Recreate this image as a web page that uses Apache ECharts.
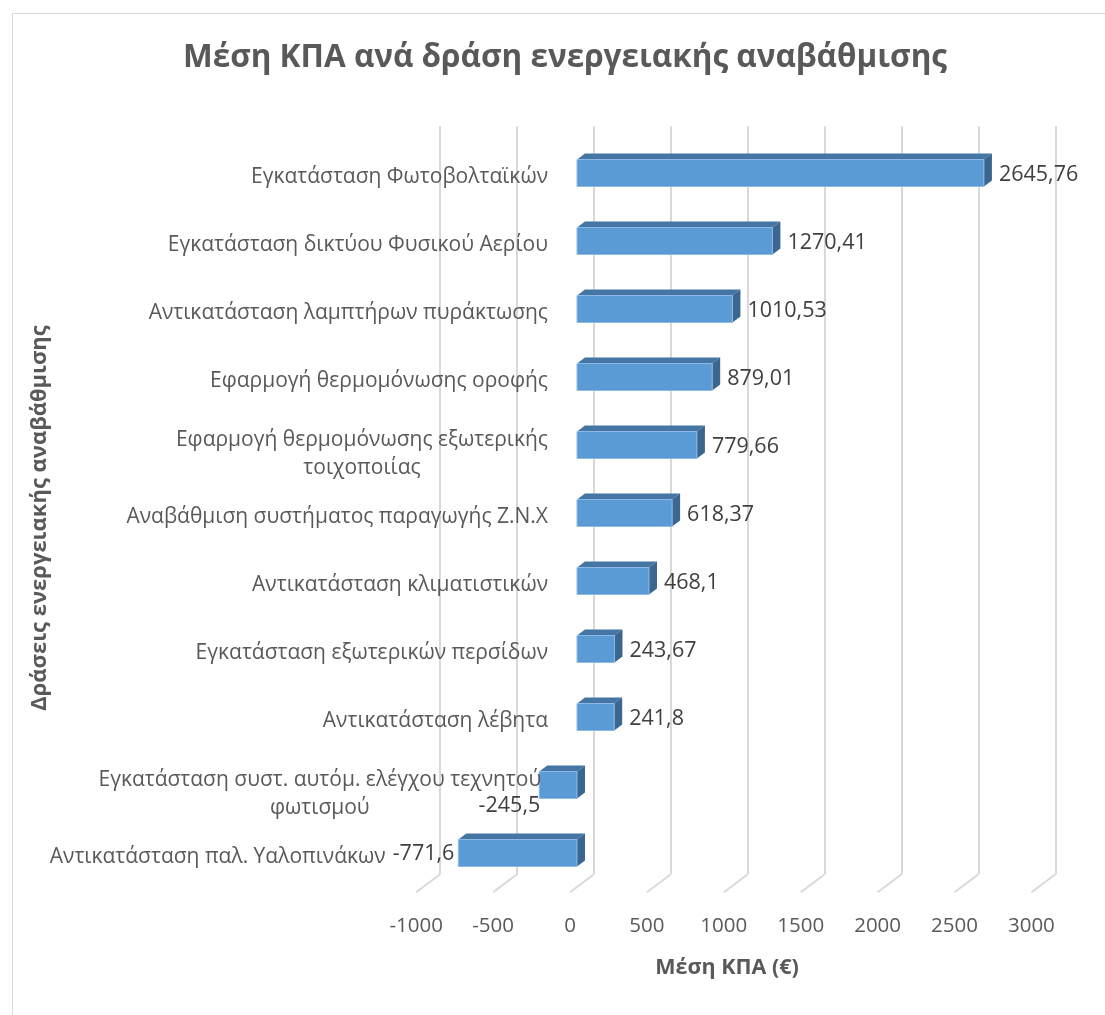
<!DOCTYPE html>
<html>
<head>
<meta charset="utf-8">
<script src="https://cdn.jsdelivr.net/npm/echarts@6/dist/echarts.min.js"></script>
<style>
  html, body { margin: 0; padding: 0; background: #ffffff; }
  #chart { width: 1105px; height: 1015px; }
</style>
</head>
<body>
<div id="chart"></div>
<script>
// Μέση ΚΠΑ ανά δράση ενεργειακής αναβάθμισης
const categories = [
  'Εγκατάσταση Φωτοβολταϊκών',
  'Εγκατάσταση δικτύου Φυσικού Αερίου',
  'Αντικατάσταση λαμπτήρων πυράκτωσης',
  'Εφαρμογή θερμομόνωσης οροφής',
  'Εφαρμογή θερμομόνωσης εξωτερικής\nτοιχοποιίας',
  'Αναβάθμιση συστήματος παραγωγής Ζ.Ν.Χ',
  'Αντικατάσταση κλιματιστικών',
  'Εγκατάσταση εξωτερικών περσίδων',
  'Αντικατάσταση λέβητα',
  'Εγκατάσταση συστ. αυτόμ. ελέγχου τεχνητού\nφωτισμού',
  'Αντικατάσταση παλ. Υαλοπινάκων'
];
const values = [2645.76, 1270.41, 1010.53, 879.01, 779.66, 618.37, 468.1, 243.67, 241.8, -245.5, -771.6];
const axisMin = -1000;
const axisMax = 3000;
const axisStep = 500;

const titleText = 'Μέση ΚΠΑ ανά δράση ενεργειακής αναβάθμισης';
const xTitle = 'Μέση ΚΠΑ (€)';
const yTitle = 'Δράσεις ενεργειακής αναβάθμισης';

const FONT = '"Open Sans", "Noto Sans", "DejaVu Sans", sans-serif';
const TEXT_GREY = '#595959';
const VALUE_GREY = '#404040';
const LABEL_SIZE = 21;
const VALUE_SIZE = 21.5;
const TICK_SIZE = 20.5;

// Oblique projection offsets (px) relative to the bar front plane
const WALL = { x: 17, y: -12.75 };   // back wall
const FLOOR = { x: -7, y: 5.25 };    // front edge of the floor
const BAR_DEPTH = { x: 8, y: -6 };   // depth of a bar
const BAR_H = 27;

// Plot box of the bar front plane
const PLOT = { left: 423.2, top: 139, width: 615.2, height: 748 };

const measureCtx = document.createElement('canvas').getContext('2d');
function textWidth(str, size, weight) {
  measureCtx.font = (weight || 'normal') + ' ' + size + 'px ' + FONT;
  return Math.max.apply(null, str.split('\n').map(l => measureCtx.measureText(l).width));
}
function fmt(v) { return String(v).replace('.', ','); }

const ticks = [];
for (let t = axisMin; t <= axisMax; t += axisStep) ticks.push(t);

function renderBar(params, api) {
  const idx = api.value(1);
  const v = api.value(0);
  const p0 = api.coord([0, idx]);
  const p1 = api.coord([v, idx]);
  const cy = p0[1];
  const xl = Math.min(p0[0], p1[0]);
  const xr = Math.max(p0[0], p1[0]);
  const yt = cy - BAR_H / 2;
  const yb = cy + BAR_H / 2;
  const dx = BAR_DEPTH.x, dy = BAR_DEPTH.y;

  const cat = categories[idx];
  const multi = cat.indexOf('\n') >= 0;
  const valStr = fmt(v);
  const valW = textWidth(valStr, VALUE_SIZE);

  let vx, vy, valign;
  let catRight = p0[0] - 29;
  if (v >= 0) {
    vx = xr + dx + 7; vy = cy + 2; valign = 'left';
  } else if (multi) {
    vx = xl + 1; vy = cy + 21; valign = 'right';
    catRight = Math.min(catRight, xl + 2);
  } else {
    vx = xl - 4; vy = cy + 1; valign = 'right';
    catRight = Math.min(catRight, vx - valW - 7);
  }
  const catW = textWidth(cat, LABEL_SIZE);

  return {
    type: 'group',
    children: [
      {
        type: 'polygon',
        shape: { points: [[xl, yt], [xr, yt], [xr + dx, yt + dy], [xl + dx, yt + dy]] },
        style: { fill: '#4475a5' }
      },
      {
        type: 'polygon',
        shape: { points: [[xr, yt], [xr + dx, yt + dy], [xr + dx, yb + dy], [xr, yb]] },
        style: { fill: '#3a6690' }
      },
      {
        type: 'rect',
        shape: { x: xl, y: yt, width: xr - xl, height: BAR_H },
        style: { fill: '#5b9bd5', stroke: '#8dbbe6', lineWidth: 1 }
      },
      {
        type: 'text',
        style: {
          text: valStr, x: vx, y: vy, align: valign, verticalAlign: 'middle',
          fill: VALUE_GREY, fontSize: VALUE_SIZE, fontFamily: FONT
        }
      },
      {
        type: 'text',
        style: {
          text: cat, x: catRight - catW / 2, y: cy + (multi ? 9 : 4),
          align: 'center', verticalAlign: 'middle', lineHeight: 28,
          fill: TEXT_GREY, fontSize: LABEL_SIZE, fontFamily: FONT
        }
      }
    ]
  };
}

function renderFloorLine(params, api) {
  const v = api.value(0);
  const cs = params.coordSys;
  const x = api.coord([v, 0])[0];
  const yb = cs.y + cs.height;
  return {
    type: 'line',
    shape: { x1: x + WALL.x, y1: yb + WALL.y, x2: x + FLOOR.x, y2: yb + FLOOR.y },
    style: { stroke: '#d9d9d9', lineWidth: 2 }
  };
}

const chart = echarts.init(document.getElementById('chart'), null, { renderer: 'canvas' });

const valueAxisBase = {
  type: 'value', min: axisMin, max: axisMax, interval: axisStep,
  axisLine: { show: false }, axisTick: { show: false }
};
const catAxisBase = {
  type: 'category', data: categories, inverse: true, show: false
};

chart.setOption({
  animation: false,
  backgroundColor: '#ffffff',
  grid: [
    { left: PLOT.left, top: PLOT.top, width: PLOT.width, height: PLOT.height },
    { left: PLOT.left + WALL.x, top: PLOT.top + WALL.y, width: PLOT.width, height: PLOT.height },
    { left: PLOT.left + FLOOR.x, top: PLOT.top + FLOOR.y, width: PLOT.width, height: PLOT.height }
  ],
  xAxis: [
    Object.assign({}, valueAxisBase, { gridIndex: 0, show: false }),
    Object.assign({}, valueAxisBase, {
      gridIndex: 1,
      axisLabel: { show: false },
      splitLine: { show: true, lineStyle: { color: '#d9d9d9', width: 2 } }
    }),
    Object.assign({}, valueAxisBase, {
      gridIndex: 2,
      splitLine: { show: false },
      axisLabel: {
        show: true, margin: 23, color: TEXT_GREY, fontSize: TICK_SIZE, fontFamily: FONT,
        formatter: v => String(v)
      }
    })
  ],
  yAxis: [
    Object.assign({}, catAxisBase, { gridIndex: 0 }),
    Object.assign({}, catAxisBase, { gridIndex: 1 }),
    Object.assign({}, catAxisBase, { gridIndex: 2 })
  ],
  series: [
    {
      type: 'custom', name: 'floor', xAxisIndex: 0, yAxisIndex: 0, z: 1, clip: false,
      silent: true,
      renderItem: renderFloorLine,
      data: ticks.map(t => [t, 0])
    },
    {
      type: 'custom', name: 'Μέση ΚΠΑ', xAxisIndex: 0, yAxisIndex: 0, z: 3, clip: false,
      renderItem: renderBar,
      encode: { x: 0, y: 1 },
      data: values.map((v, i) => [v, i])
    }
  ],
  graphic: [
    {
      type: 'rect', silent: true, z: -10,
      shape: { x: 12.5, y: 13.5, width: 1200, height: 1100 },
      style: { fill: 'none', stroke: '#d9d9d9', lineWidth: 1 }
    },
    {
      type: 'text', x: 565, y: 58,
      style: {
        text: titleText, align: 'center', verticalAlign: 'middle',
        fill: TEXT_GREY, fontSize: 31.5, fontWeight: 'bold', fontFamily: FONT
      }
    },
    {
      type: 'text', x: 727, y: 968,
      style: {
        text: xTitle, align: 'center', verticalAlign: 'middle',
        fill: TEXT_GREY, fontSize: 21.5, fontWeight: 'bold', fontFamily: FONT
      }
    },
    {
      type: 'text', x: 40, y: 518, rotation: Math.PI / 2,
      style: {
        text: yTitle, align: 'center', verticalAlign: 'middle',
        fill: TEXT_GREY, fontSize: 22, fontWeight: 'bold', fontFamily: FONT
      }
    }
  ]
});
</script>
</body>
</html>
